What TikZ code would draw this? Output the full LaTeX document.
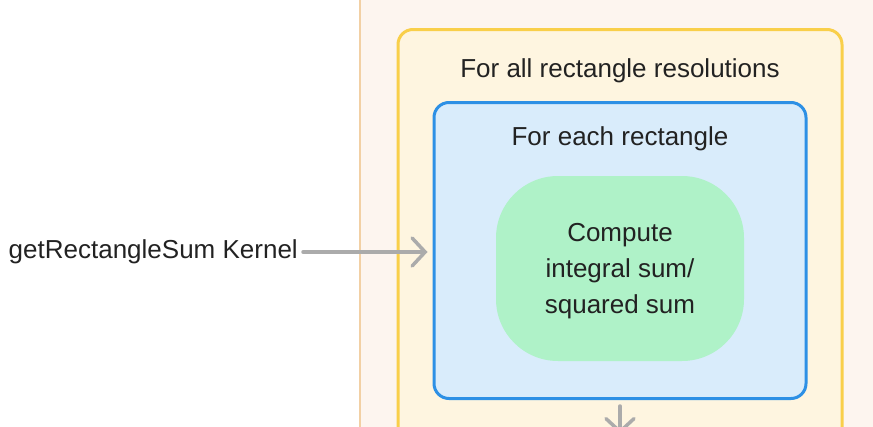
\documentclass[tikz,border=0pt]{standalone}
\usepackage{fontspec}
\setmainfont{Liberation Sans}
\usepackage{tikz}
\usetikzlibrary{arrows.meta, positioning, calc}
\definecolor{pagebg}{HTML}{FDF5EF}
\definecolor{pageline}{HTML}{F2D0A4}
\definecolor{loopyellow}{HTML}{F9CF4A}
\definecolor{loopyellowbg}{HTML}{FEF5E0}
\definecolor{loopblue}{HTML}{2D90E5}
\definecolor{loopbluebg}{HTML}{D9ECFB}
\definecolor{computegreen}{HTML}{AFF2C8}
\definecolor{textdark}{HTML}{222222}
\definecolor{arrowgray}{HTML}{ABABAB}

\begin{document}
\begin{tikzpicture}[
    x=1pt, y=-1pt,
    node distance=0.2cm,
    txt/.style={font=\fontsize{26}{36}\selectfont, text=textdark, align=center, inner sep=0pt},
    outerloop/.style={draw=loopyellow, fill=loopyellowbg, line width=3pt, rounded corners=15pt, minimum width=444pt, minimum height=470pt, inner sep=0pt},
    innerloop/.style={draw=loopblue, fill=loopbluebg, line width=3pt, rounded corners=15pt, minimum width=372pt, minimum height=296pt, inner sep=0pt},
    compute/.style={txt, fill=computegreen, rounded corners=62pt, minimum width=248pt, minimum height=185pt},
    arr/.style={-{Straight Barb[length=13pt, width=28pt, line cap=round]}, line width=3.5pt, arrowgray, line cap=round},
  ]
  \clip (0,0) rectangle (873,426);
  \useasboundingbox (0,0) rectangle (873,426);
  % page background
  \fill[pagebg] (360,-10) rectangle (883,436);
  \draw[pageline, line width=2.5pt] (360,-10) -- (360,436);
  % loops
  \node[outerloop, anchor=north] (res) at (620,28) {};
  \node[txt] (tres) at (620,71) {For all rectangle resolutions};
  \node[innerloop, anchor=north] (rect) at (620,101) {};
  \node[txt] (trect) at (620,139) {For each rectangle};
  \node[compute] (comp) at (620,268.5) {};
  \node[txt] (tcomp) at (620,271.5) {Compute\\integral sum/\\squared sum};
  % kernel call
  \node[txt, anchor=east] (kernel) at (298,252) {getRectangleSum Kernel};
  \draw[arr, shorten <=5pt, shorten >=5pt] (kernel.east) -- (kernel.east -| rect.west);
  \coordinate (next) at (620,434);
  \draw[arr, shorten <=6pt] (rect.south) -- (next);
\end{tikzpicture}
\end{document}
